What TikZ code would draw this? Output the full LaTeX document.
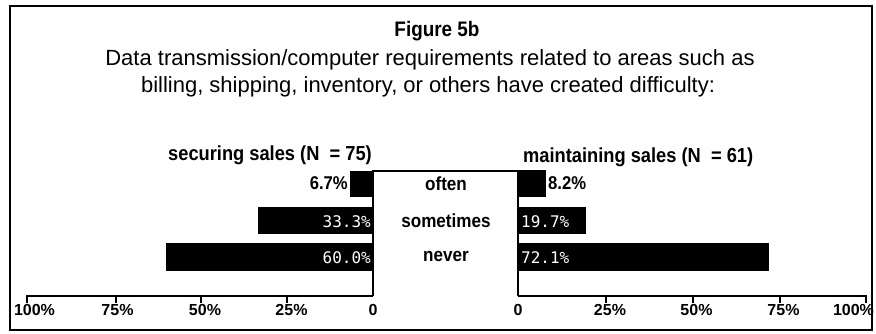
\documentclass[tikz,border=0pt]{standalone}
\usepackage{fontspec}
\setmainfont{Liberation Sans}
\newfontfamily\barfont{DejaVu Sans Mono}
\newfontfamily\condfont[FakeStretch=0.9]{Liberation Sans}
\usetikzlibrary{positioning}

\begin{document}
\begin{tikzpicture}[
    x=1pt, y=-1pt,
    heading/.style={font=\condfont\fontsize{20.3}{22}\selectfont\bfseries, inner sep=0pt},
    catlabel/.style={font=\condfont\fontsize{19}{21}\selectfont\bfseries, inner sep=0pt, anchor=base},
    inval/.style={font=\barfont\fontsize{16}{18}\selectfont, text=white, inner sep=0pt},
    outval/.style={font=\condfont\fontsize{18.5}{20}\selectfont\bfseries, inner sep=0pt},
    ticklabel/.style={font=\fontsize{16}{18}\selectfont\bfseries, inner sep=0pt, anchor=base},
    bar/.style={fill=black, draw=none},
    axis/.style={line width=2pt}
]
\useasboundingbox (0,0) rectangle (876,333);
\draw[line width=2pt] (10,6) rectangle (872,330);

% title
\node[font=\condfont\fontsize{21}{23}\selectfont\bfseries, inner sep=0pt, anchor=base] (title) at (437,36) {Figure 5b};
\node[font=\fontsize{22}{24}\selectfont, inner sep=0pt, anchor=base] (sub1) at (430,65)
    {Data transmission/computer requirements related to areas such as};
\node[font=\fontsize{22}{24}\selectfont, inner sep=0pt, anchor=base] (sub2) at (428,92)
    {billing, shipping, inventory, or others have created difficulty:};

% group headings
\node[heading, anchor=base east] (secure) at (372,160) {securing sales (N \ = 75)};
\node[heading, anchor=base west] (maintain) at (523,162) {maintaining sales (N \ = 61)};

% bars, securing sales
\fill[bar] (350,171) rectangle (373,197);
\fill[bar] (258,207) rectangle (373,234);
\fill[bar] (166,243) rectangle (373,271);
% bars, maintaining sales
\fill[bar] (518,170) rectangle (546,197);
\fill[bar] (518,207) rectangle (586,234);
\fill[bar] (518,243) rectangle (769,271);

% values
\node[outval, anchor=base east] (s1) at (348,189) {6.7\%};
\node[inval, anchor=base east] (s2) at (371,227) {33.3\%};
\node[inval, anchor=base east] (s3) at (371,263) {60.0\%};
\node[outval, anchor=base west] (m1) at (548,189) {8.2\%};
\node[inval, anchor=base west] (m2) at (521,227) {19.7\%};
\node[inval, anchor=base west] (m3) at (521,263) {72.1\%};

% categories
\node[catlabel] (often) at (446,190) {often};
\node[catlabel] (sometimes) at (446,227) {sometimes};
\node[catlabel] (never) at (446,261) {never};

% centre box and axes
\draw[axis] (373,296) -- (373,171) -- (518,171) -- (518,296);
\draw[axis] (27,303) -- (27,296) -- (373,296);
\draw[axis] (518,296) -- (866,296) -- (866,303);
\foreach \t in {116,201,287} \draw[axis] (\t,296) -- (\t,303);
\foreach \t in {606,693,780} \draw[axis] (\t,296) -- (\t,303);

% axis labels
\node[ticklabel] (l100) at (34.5,315) {100\%};
\node[ticklabel] (l75) at (117.5,315) {75\%};
\node[ticklabel] (l50) at (205,315) {50\%};
\node[ticklabel] (l25) at (291.5,315) {25\%};
\node[ticklabel] (l0) at (373,315) {0};
\node[ticklabel] (r0) at (518,315) {0};
\node[ticklabel] (r25) at (610,315) {25\%};
\node[ticklabel] (r50) at (696.5,315) {50\%};
\node[ticklabel] (r75) at (783.5,315) {75\%};
\node[ticklabel] (r100) at (853.5,315) {100\%};
\end{tikzpicture}
\end{document}
